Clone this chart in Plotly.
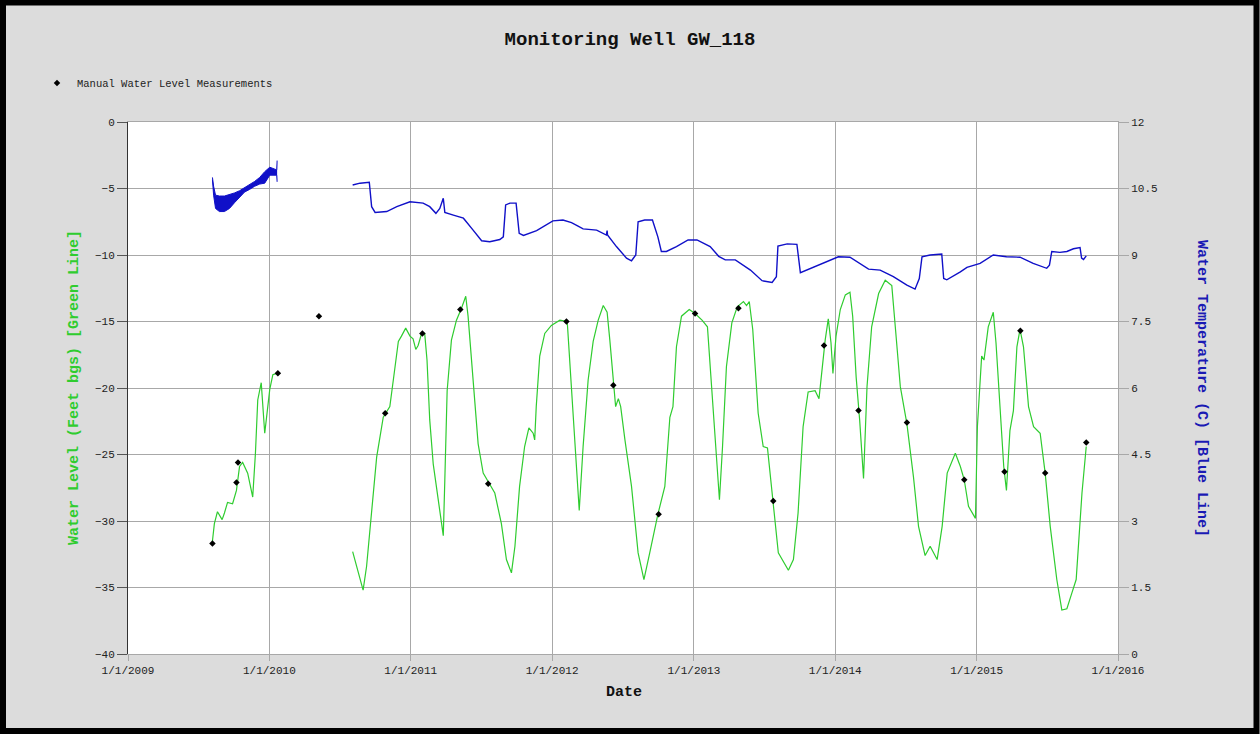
import plotly.graph_objects as go

# ---------------- data ----------------
# Water level (feet bgs), first deployment 2009
wl_dates_a = ["2009-08-07", "2009-08-12", "2009-08-20", "2009-09-01", "2009-09-07", "2009-09-15",
              "2009-09-28", "2009-10-08", "2009-10-16", "2009-10-24", "2009-11-06", "2009-11-19",
              "2009-11-26", "2009-12-02", "2009-12-11", "2009-12-20", "2010-01-02", "2010-01-10",
              "2010-01-20"]
wl_vals_a = [-31.5, -30.2, -29.3, -29.9, -29.4, -28.6, -28.7, -27.7, -25.9, -25.6, -26.4, -28.2,
             -24.9, -20.9, -19.6, -23.4, -20.1, -19.0, -18.9]

# Water level, second deployment 2010-2015
wl_dates_b = ["2010-08-04", "2010-08-14", "2010-08-23", "2010-08-31", "2010-09-09", "2010-09-22",
              "2010-10-05", "2010-10-22", "2010-10-31", "2010-11-08", "2010-11-17", "2010-11-30",
              "2010-12-08", "2010-12-19", "2010-12-30", "2011-01-07", "2011-01-14", "2011-01-20",
              "2011-01-29", "2011-02-06", "2011-02-12", "2011-02-19", "2011-02-28", "2011-03-17",
              "2011-03-26", "2011-03-30", "2011-04-05", "2011-04-16", "2011-04-29", "2011-05-12",
              "2011-05-23", "2011-05-29", "2011-06-11", "2011-06-24", "2011-07-07", "2011-07-22",
              "2011-08-06", "2011-08-23", "2011-09-05", "2011-09-18", "2011-09-27", "2011-10-09",
              "2011-10-22", "2011-11-02", "2011-11-13", "2011-11-17", "2011-11-21", "2011-11-30",
              "2011-12-13", "2011-12-30", "2012-01-21", "2012-02-09", "2012-02-16", "2012-02-29",
              "2012-03-11", "2012-03-21", "2012-04-03", "2012-04-16", "2012-04-29", "2012-05-12",
              "2012-05-22", "2012-05-29", "2012-06-07", "2012-06-13", "2012-06-20", "2012-06-26",
              "2012-07-07", "2012-07-24", "2012-08-10", "2012-08-25", "2012-09-09", "2012-09-30",
              "2012-10-18", "2012-10-31", "2012-11-08", "2012-11-17", "2012-11-30", "2012-12-20",
              "2013-01-04", "2013-01-22", "2013-02-05", "2013-02-12", "2013-02-25", "2013-03-08",
              "2013-03-16", "2013-03-26", "2013-04-09", "2013-04-23", "2013-05-09", "2013-05-17",
              "2013-05-24", "2013-06-02", "2013-06-16", "2013-06-29", "2013-07-10", "2013-07-25",
              "2013-08-07", "2013-09-02", "2013-09-15", "2013-09-27", "2013-10-10", "2013-10-23",
              "2013-11-10", "2013-11-20", "2013-11-27", "2013-12-06", "2013-12-14", "2013-12-21",
              "2013-12-26", "2014-01-03", "2014-01-14", "2014-01-27", "2014-02-08", "2014-02-15",
              "2014-02-24", "2014-03-05", "2014-03-15", "2014-03-24", "2014-04-05", "2014-04-23",
              "2014-05-10", "2014-05-27", "2014-06-05", "2014-06-18", "2014-07-05", "2014-07-22",
              "2014-08-04", "2014-08-21", "2014-09-03", "2014-09-21", "2014-10-04", "2014-10-17",
              "2014-11-07", "2014-11-20", "2014-11-30", "2014-12-11", "2014-12-29", "2015-01-03",
              "2015-01-14", "2015-01-20", "2015-01-31", "2015-02-13", "2015-02-20", "2015-03-02",
              "2015-03-12", "2015-03-19", "2015-03-28", "2015-04-06", "2015-04-15", "2015-04-23",
              "2015-05-02", "2015-05-15", "2015-05-28", "2015-06-14", "2015-06-27", "2015-07-10",
              "2015-07-27", "2015-08-09", "2015-08-22", "2015-09-04", "2015-09-15", "2015-09-30",
              "2015-10-11"]
wl_vals_b = [-32.3, -33.4, -34.2, -35.2, -33.4, -29.4,
             -25.2, -22.2, -21.8, -21.4, -19.4, -16.5,
             -16.1, -15.5, -16.1, -16.3, -17.1, -16.8,
             -15.9, -15.9, -17.9, -22.4, -25.7, -29.4,
             -31.1, -26.9, -20.2, -16.4, -14.9, -14.0,
             -13.1, -14.6, -19.4, -24.2, -26.4, -27.2,
             -27.9, -30.2, -32.9, -33.9, -31.9, -27.4,
             -24.4, -23.0, -23.4, -23.9, -21.4, -17.6,
             -15.9, -15.3, -14.9, -15.0, -18.1, -24.4,
             -29.2, -24.4, -19.4, -16.5, -14.9, -13.8,
             -14.3, -16.4, -19.8, -21.4, -20.8, -21.4,
             -23.9, -27.4, -32.4, -34.4, -32.4, -29.5,
             -27.4, -22.2, -21.4, -16.9, -14.6, -14.1,
             -14.4, -14.9, -15.4, -18.4, -24.4, -28.4,
             -24.4, -18.4, -15.1, -13.9, -13.5, -13.8,
             -13.5, -15.6, -21.9, -24.4, -24.5, -28.5,
             -32.4, -33.7, -32.9, -29.4, -22.9, -20.3,
             -20.2, -20.8, -18.9, -16.4, -14.8, -16.6,
             -18.9, -16.1, -14.1, -13.0, -12.8, -14.6,
             -19.2, -22.4, -26.8, -19.9, -15.4, -12.9,
             -11.9, -12.3, -15.4, -19.9, -22.7, -26.7,
             -30.4, -32.6, -31.9, -32.9, -30.4, -26.4,
             -24.9, -25.9, -26.9, -28.9, -29.8, -22.9,
             -17.6, -17.9, -15.4, -14.3, -16.6, -21.7,
             -25.9, -27.7, -23.2, -21.7, -16.9, -15.6,
             -16.9, -21.4, -22.9, -23.4, -26.4, -30.4,
             -34.4, -36.7, -36.6, -35.4, -34.4, -27.9,
             -24.4]

# Manual water level measurements
manual_dates = ["2009-08-07", "2009-10-08", "2009-10-12", "2010-01-23", "2010-05-09", "2010-10-27",
                "2011-01-31", "2011-05-09", "2011-07-20", "2012-02-07", "2012-06-07", "2012-10-02",
                "2013-01-04", "2013-04-26", "2013-07-25", "2013-12-03", "2014-03-02", "2014-07-05",
                "2014-11-30", "2015-03-14", "2015-04-24", "2015-06-27", "2015-10-11"]
manual_vals = [-31.7, -27.1, -25.6, -18.9, -14.6, -21.9,
               -15.9, -14.1, -27.2, -15.0, -19.8, -29.5,
               -14.4, -14.0, -28.5, -16.8, -21.7, -22.6,
               -26.9, -26.3, -15.7, -26.4, -24.1]

# Water temperature (C), 2009 deployment: diurnal band envelope
temp_dates_a = ["2009-08-07", "2009-08-10", "2009-08-15", "2009-08-25", "2009-09-07", "2009-09-20",
                "2009-10-03", "2009-10-16", "2009-10-29", "2009-11-11", "2009-11-24", "2009-12-07",
                "2009-12-20", "2010-01-02", "2010-01-20", "2010-01-21"]
temp_upper_a = [10.75, 10.55, 10.35, 10.33, 10.33, 10.36, 10.4, 10.45, 10.52, 10.58, 10.66, 10.75,
                10.88, 10.98, 10.92, 11.13]
temp_lower_a = [10.7, 10.35, 10.05, 9.98, 9.98, 10.05, 10.18, 10.3, 10.42, 10.48, 10.55, 10.6,
                10.62, 10.8, 10.8, 10.65]

# Water temperature, 2010-2015 deployment
temp_dates_b = ["2010-08-04", "2010-08-23", "2010-09-16", "2010-09-22", "2010-10-01", "2010-10-31",
                "2010-11-26", "2010-12-30", "2011-02-02", "2011-02-19", "2011-03-07", "2011-03-17",
                "2011-03-26", "2011-03-30", "2011-04-21", "2011-05-17", "2011-06-11", "2011-07-03",
                "2011-07-24", "2011-08-19", "2011-08-28", "2011-09-03", "2011-09-14", "2011-09-30",
                "2011-10-08", "2011-10-19", "2011-11-22", "2012-01-03", "2012-01-29", "2012-02-20",
                "2012-03-08", "2012-03-21", "2012-04-25", "2012-05-20", "2012-05-22", "2012-05-23",
                "2012-06-15", "2012-07-11", "2012-07-24", "2012-08-04", "2012-08-10", "2012-08-27",
                "2012-09-16", "2012-09-30", "2012-10-09", "2012-10-22", "2012-11-17", "2012-12-17",
                "2013-01-09", "2013-02-12", "2013-03-06", "2013-03-23", "2013-04-18", "2013-05-27",
                "2013-06-26", "2013-07-22", "2013-08-02", "2013-08-06", "2013-08-30", "2013-09-24",
                "2013-10-03", "2013-10-29", "2013-12-11", "2014-01-09", "2014-02-08", "2014-03-06",
                "2014-03-28", "2014-04-27", "2014-05-31", "2014-07-05", "2014-07-26", "2014-08-06",
                "2014-08-13", "2014-09-03", "2014-10-03", "2014-10-08", "2014-10-16", "2014-11-20",
                "2014-12-07", "2015-01-10", "2015-02-13", "2015-03-19", "2015-04-23", "2015-05-27",
                "2015-07-01", "2015-07-08", "2015-07-14", "2015-08-04", "2015-08-22", "2015-09-08",
                "2015-09-25", "2015-09-29", "2015-10-04", "2015-10-11"]
temp_vals_b = [10.58, 10.62, 10.64, 10.09, 9.96, 9.98,
               10.09, 10.2, 10.17, 10.09, 9.94, 10.05,
               10.28, 9.96, 9.9, 9.83, 9.56, 9.32,
               9.30, 9.35, 9.41, 10.13, 10.17, 10.17,
               9.49, 9.44, 9.55, 9.77, 9.79, 9.73,
               9.65, 9.59, 9.56, 9.45, 9.55, 9.45,
               9.19, 8.93, 8.87, 9.0, 9.75, 9.79,
               9.79, 9.41, 9.08, 9.08, 9.19, 9.34,
               9.34, 9.19, 8.97, 8.89, 8.89, 8.66,
               8.42, 8.38, 8.51, 9.2, 9.25, 9.24,
               8.6, 8.7, 8.85, 8.96, 8.95, 8.81,
               8.68, 8.66, 8.51, 8.32, 8.23, 8.47,
               8.96, 9.0, 9.02, 8.47, 8.44, 8.62,
               8.72, 8.81, 9.0, 8.96, 8.95, 8.81,
               8.7, 8.77, 9.08, 9.06, 9.08, 9.14,
               9.17, 8.93, 8.9, 8.98]

# ---------------- style ----------------
FONT = "Liberation Mono"
GREEN = "#2fcc2f"
BLUE = "#1010c8"
GRID = "#a8a8a8"

fig = go.Figure()

# Water level lines
fig.add_trace(go.Scatter(x=wl_dates_a, y=wl_vals_a, mode="lines",
                         line=dict(color=GREEN, width=1.2), showlegend=False, hoverinfo="skip"))
fig.add_trace(go.Scatter(x=wl_dates_b, y=wl_vals_b, mode="lines",
                         line=dict(color=GREEN, width=1.2), showlegend=False, hoverinfo="skip"))

# Temperature band 2009
fig.add_trace(go.Scatter(x=temp_dates_a, y=temp_lower_a, yaxis="y2", mode="lines",
                         line=dict(color=BLUE, width=1), showlegend=False, hoverinfo="skip"))
fig.add_trace(go.Scatter(x=temp_dates_a, y=temp_upper_a, yaxis="y2", mode="lines",
                         line=dict(color=BLUE, width=1), fill="tonexty", fillcolor=BLUE,
                         showlegend=False, hoverinfo="skip"))
# Temperature line 2010-2015
fig.add_trace(go.Scatter(x=temp_dates_b, y=temp_vals_b, yaxis="y2", mode="lines",
                         line=dict(color=BLUE, width=1.4), showlegend=False, hoverinfo="skip"))

# Manual measurements
fig.add_trace(go.Scatter(x=manual_dates, y=manual_vals, mode="markers",
                         marker=dict(symbol="diamond", size=5, color="black"),
                         name="Manual Water Level Measurements"))

W, H = 1260, 734
L, R, T, B = 128, 142, 122, 80
pw, ph = W - L - R, H - T - B


def px(xp):
    return (xp - L) / pw


def py(yp):
    return (H - B - yp) / ph


fig.update_layout(
    width=W, height=H,
    margin=dict(l=L, r=R, t=T, b=B),
    paper_bgcolor="#dcdcdc",
    plot_bgcolor="white",
    font=dict(family=FONT, size=11, color="#333333"),
    title=dict(text="<b>Monitoring Well GW_118</b>", x=0.5, xref="container", xanchor="center",
               y=1 - 38 / H, yanchor="middle", font=dict(family=FONT, size=19, color="#111111")),
    showlegend=True,
    legend=dict(x=px(37), y=py(83), xanchor="left", yanchor="middle", bgcolor="rgba(0,0,0,0)",
                font=dict(family=FONT, size=10.5, color="#222222"), itemwidth=30),
    xaxis=dict(type="date", range=["2009-01-01", "2016-01-01"], dtick="M12", tick0="2009-01-01",
               tickformat="%-m/%-d/%Y", showgrid=True, gridcolor=GRID, gridwidth=1,
               ticks="outside", ticklen=6, tickcolor=GRID, showline=True, linecolor=GRID,
               mirror=True, zeroline=False, tickfont=dict(family=FONT, size=11, color="#222222")),
    yaxis=dict(range=[-40, 0], dtick=5, tick0=0, showgrid=True, gridcolor=GRID, gridwidth=1,
               ticks="outside", ticklen=10, tickcolor="#555555", showline=True, linecolor="#333333",
               zeroline=False, tickfont=dict(family=FONT, size=11, color="#222222")),
    yaxis2=dict(range=[0, 12], dtick=1.5, tick0=0, overlaying="y", side="right", showgrid=False,
                ticks="outside", ticklen=10, tickcolor=GRID, showline=True, linecolor=GRID,
                zeroline=False, tickfont=dict(family=FONT, size=11, color="#222222")),
    annotations=[
        dict(text="<b>Water Level (Feet bgs) [Green Line]</b>", xref="paper", yref="paper",
             x=px(74), y=0.5, xanchor="center", yanchor="middle", textangle=-90, showarrow=False,
             font=dict(family=FONT, size=15, color=GREEN)),
        dict(text="<b>Water Temperature (C) [Blue Line]</b>", xref="paper", yref="paper",
             x=px(1202), y=0.5, xanchor="center", yanchor="middle", textangle=90, showarrow=False,
             font=dict(family=FONT, size=15, color="#1a1ab4")),
        dict(text="<b>Date</b>", xref="paper", yref="paper", x=px(624), y=py(692),
             xanchor="center", yanchor="middle", showarrow=False,
             font=dict(family=FONT, size=15, color="#111111")),
    ],
    shapes=[
        dict(type="rect", xref="paper", yref="paper", x0=px(3), x1=px(W - 3.5), y0=py(2.5),
             y1=py(H - 3), line=dict(color="black", width=6), layer="above"),
    ],
)

fig.write_html("out.html")
